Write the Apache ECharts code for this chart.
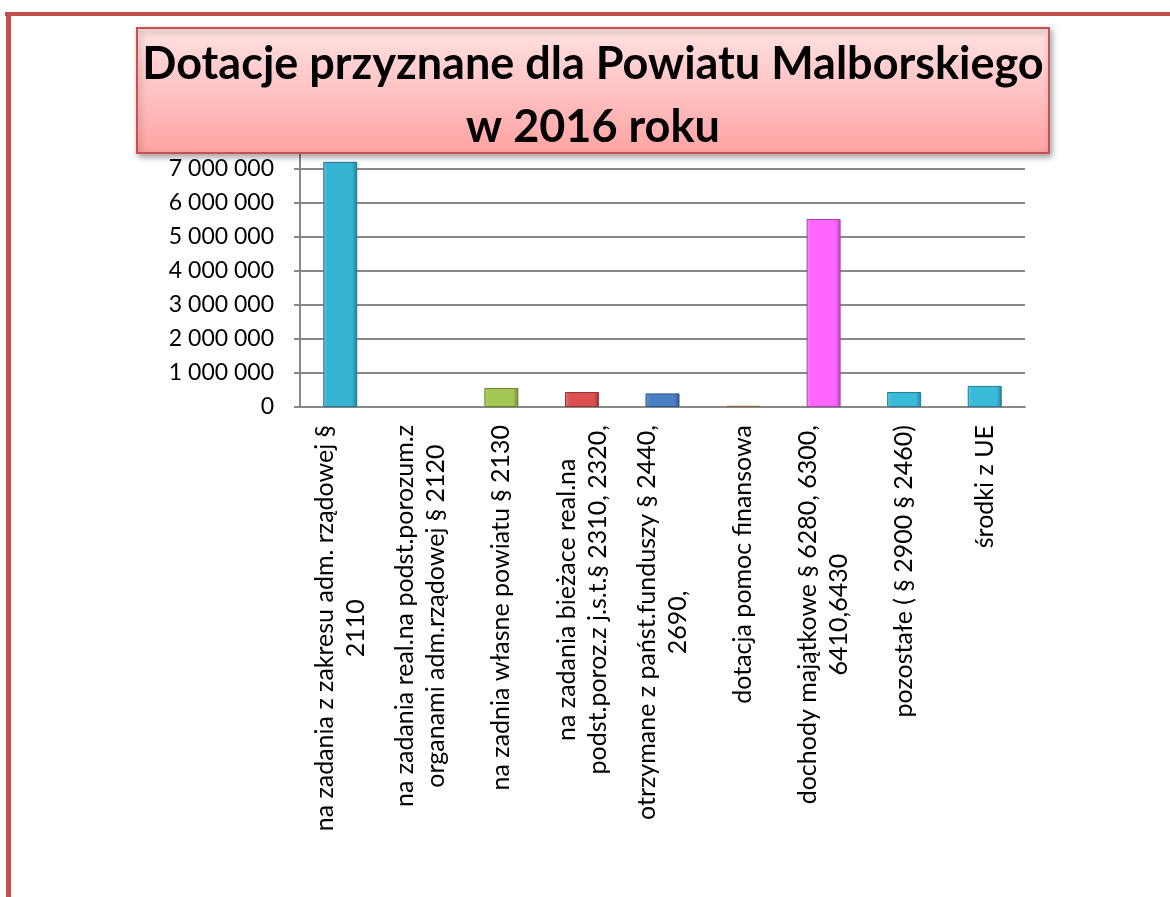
<!DOCTYPE html>
<html>
<head>
<meta charset="utf-8">
<script src="https://cdn.jsdelivr.net/npm/echarts@6/dist/echarts.min.js"></script>
<style>
  html, body { margin: 0; padding: 0; background: #fff; }
  #main { width: 1170px; height: 897px; }
</style>
</head>
<body>
<div id="main"></div>
<script>
const titleText = 'Dotacje przyznane dla Powiatu Malborskiego\nw 2016 roku';

const categories = [
  'na zadania z zakresu adm. rządowej §\n2110',
  'na zadania real.na podst.porozum.z\norganami adm.rządowej § 2120',
  'na zadnia własne powiatu § 2130',
  'na zadania bieżace real.na\npodst.poroz.z j.s.t.§ 2310, 2320,',
  'otrzymane z państ.funduszy § 2440,\n2690,',
  'dotacja pomoc finansowa',
  'dochody majątkowe § 6280, 6300,\n6410,6430',
  'pozostałe ( § 2900 § 2460)',
  'środki z UE'
];
const values = [7210000, 0, 560000, 440000, 400000, 35000, 5530000, 440000, 620000];
const barColors = ['#36b2d2', '#7f7f7f', '#a2c651', '#dc5050', '#4b7fc4', '#d9a062', '#ff66ff', '#38bad8', '#38bad8'];

function shade(hex, amt) {
  let n = parseInt(hex.slice(1), 16);
  let r = n >> 16, g = (n >> 8) & 255, b = n & 255;
  const f = c => Math.max(0, Math.min(255, Math.round(amt > 0 ? c + (255 - c) * amt : c * (1 + amt))));
  return 'rgb(' + f(r) + ',' + f(g) + ',' + f(b) + ')';
}
function bevel(c) {
  return new echarts.graphic.LinearGradient(0, 0, 1, 0, [
    { offset: 0, color: shade(c, 0.25) },
    { offset: 0.12, color: c },
    { offset: 0.85, color: c },
    { offset: 1, color: shade(c, -0.3) }
  ]);
}

const fmt = v => String(v).replace(/\B(?=(\d{3})+(?!\d))/g, ' ');

var myChart = echarts.init(document.getElementById('main'), null, { renderer: 'canvas' });
myChart.setOption({
  animation: false,
  backgroundColor: '#fff',
  graphic: [
    { type: 'line', z: 1, shape: { x1: 5, y1: 14, x2: 1170, y2: 14 }, style: { stroke: '#c0504d', lineWidth: 4 } },
    { type: 'line', z: 1, shape: { x1: 8.5, y1: 12, x2: 8.5, y2: 897 }, style: { stroke: '#c0504d', lineWidth: 5 } },
    {
      type: 'rect', z: 50,
      shape: { x: 137, y: 28, width: 912, height: 125 },
      style: {
        fill: new echarts.graphic.LinearGradient(0, 0, 0, 1, [
          { offset: 0, color: '#ffe2e2' },
          { offset: 1, color: '#ffa3a3' }
        ]),
        stroke: '#c9504f',
        lineWidth: 2,
        shadowBlur: 6,
        shadowOffsetX: 2,
        shadowOffsetY: 3,
        shadowColor: 'rgba(0,0,0,0.35)'
      }
    },
    {
      type: 'text', z: 60,
      x: 593, y: 96,
      style: {
        text: titleText,
        align: 'center',
        verticalAlign: 'middle',
        fontFamily: 'Lato',
        fontWeight: 'bold',
        fontSize: 45,
        lineHeight: 63,
        fill: '#000'
      }
    }
  ],
  grid: { left: 300, right: 145, top: 135, bottom: 490 },
  xAxis: {
    type: 'category',
    data: categories,
    axisLine: { lineStyle: { color: '#888', width: 2 } },
    axisTick: { length: 6, lineStyle: { color: '#888', width: 2 } },
    axisLabel: {
      rotate: 90,
      margin: 18,
      interval: 0,
      formatter: v => v.split('\n').map(s => '{c|' + s + '}').join('\n'),
      rich: {
        c: { align: 'center', fontFamily: 'Lato', fontSize: 25, lineHeight: 31, color: '#000' }
      }
    }
  },
  yAxis: {
    type: 'value',
    min: 0,
    max: 8000000,
    interval: 1000000,
    axisLine: { show: true, lineStyle: { color: '#888', width: 2 } },
    axisTick: { show: true, length: 6, lineStyle: { color: '#888', width: 2 } },
    splitLine: { lineStyle: { color: '#888', width: 2 } },
    axisLabel: {
      margin: 26,
      formatter: fmt,
      fontFamily: 'Lato',
      fontSize: 23,
      color: '#000'
    }
  },
  series: [{
    type: 'bar',
    barWidth: 34,
    data: values.map((v, i) => ({
      value: v,
      itemStyle: { color: bevel(barColors[i]), borderColor: shade(barColors[i], -0.35), borderWidth: v > 0 ? 1 : 0 }
    }))
  }]
});
</script>
</body>
</html>
